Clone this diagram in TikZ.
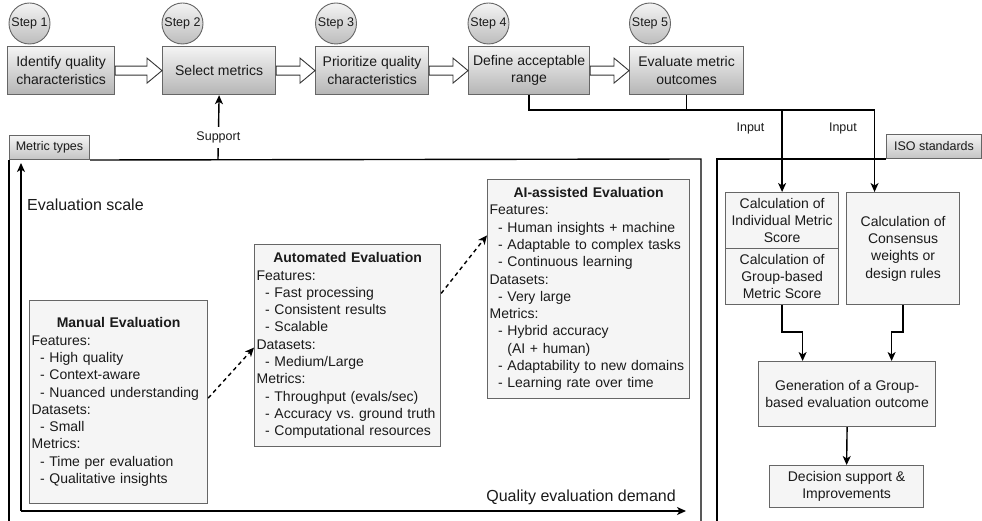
\documentclass[tikz,border=0pt]{standalone}
\usepackage{fontspec}
\setmainfont{Liberation Sans}
\usetikzlibrary{arrows.meta,calc}
\frenchspacing
\definecolor{boxline}{HTML}{666666}
\definecolor{boxfill}{HTML}{F5F5F5}
\definecolor{gradtop}{HTML}{F4F4F4}
\definecolor{gradbot}{HTML}{B5B5B5}
\definecolor{txt}{HTML}{1A1A1A}
\newcommand\bul{\hspace*{8.5pt}- }
\newcommand\bulcont{\hspace*{8.5pt}\phantom{-}\ }
\begin{document}
\begin{tikzpicture}[x=1pt,y=-1pt,
  every node/.style={font=\fontsize{14}{17.3}\selectfont, text=txt},
  stepbox/.style={draw=boxline, line width=1.2pt, top color=gradtop, bottom color=gradbot,
    anchor=north west, minimum height=48pt, inner sep=0pt, align=center},
  stepcirc/.style={circle, draw=boxline, line width=0.9pt, top color=gradtop, bottom color=gradbot!90,
    minimum size=41pt, inner sep=0pt, font=\fontsize{12.5}{14}\selectfont},
  tabbox/.style={draw=boxline, line width=1pt, top color=gradtop, bottom color=gradbot!80,
    anchor=north west, minimum height=24pt, inner sep=0pt, font=\fontsize{12.5}{14}\selectfont},
  evalbox/.style={draw=boxline, line width=1.2pt, fill=boxfill, anchor=north west,
    inner xsep=2pt, inner ysep=0pt, align=left},
  rbox/.style={draw=boxline, line width=1.2pt, fill=boxfill, anchor=north west,
    inner sep=0pt, align=center},
  hollow/.style={draw=black!80, line width=0.9pt, fill=white},
  panel/.style={draw=black, line width=1.4pt},
  arr/.style={draw=black, line width=1.4pt, -{Stealth[length=9pt,width=8pt,inset=2.5pt]}},
  dasharr/.style={arr, dash pattern=on 4pt off 3.5pt},
  smalllbl/.style={font=\fontsize{12.5}{14}\selectfont, inner sep=0pt},
  axislbl/.style={font=\fontsize{16}{18}\selectfont, inner sep=0pt}]

\useasboundingbox (0,0) rectangle (982,521);

% step badges (drawn first so the boxes cover their lower part)
\node[stepcirc] (s1) at (29.5,23.5) {Step 1};
\node[stepcirc] (s2) at (182.5,23.5) {Step 2};
\node[stepcirc] (s3) at (336,23.5) {Step 3};
\node[stepcirc] (s4) at (488.5,23.5) {Step 4};
\node[stepcirc] (s5) at (650,23.5) {Step 5};

% process steps
\node[stepbox, minimum width=107pt] (b1) at (7,46) {Identify quality\\characteristics};
\node[stepbox, minimum width=113pt] (b2) at (162,46) {Select metrics};
\node[stepbox, minimum width=113pt] (b3) at (315,46) {Prioritize quality\\characteristics};
\node[stepbox, minimum width=121pt] (b4) at (468,46) {Define acceptable\\range};
\node[stepbox, minimum width=114pt] (b5) at (629,46) {Evaluate metric\\outcomes};

% hollow block arrows between consecutive steps
\newcommand\blockarrow[2]{%
  \path[hollow] let \p1=(#1.east), \p2=(#2.west) in
    (\x1,\y1+4.5pt) -- (\x2-15pt,\y1+4.5pt) -- (\x2-15pt,\y1+12.5pt) -- (\x2,\y1)
    -- (\x2-15pt,\y1-12.5pt) -- (\x2-15pt,\y1-4.5pt) -- (\x1,\y1-4.5pt) -- cycle;}
\blockarrow{b1}{b2}
\blockarrow{b2}{b3}
\blockarrow{b3}{b4}
\blockarrow{b4}{b5}

% metric types panel
\node[tabbox, minimum width=80pt] (mtab) at (9,135) {Metric types};
\draw[panel] (mtab.south west) -- (9,521);
\draw[panel] (mtab.south east) -- (701,159) -- (701,521);
\coordinate (mtop) at (218,159);
\draw[arr] (mtop) -- node[pos=0.34, fill=white, smalllbl, inner ysep=5pt, inner xsep=2pt] {Support} (b2.south);

% ISO standards panel
\node[tabbox, minimum width=95pt] (itab) at (886,134) {ISO standards};
\draw[panel] (itab.south west) -- (717,159) -- (717,521);

% axes
\coordinate (origin) at (21,511);
\coordinate (ytop) at (21,163);
\coordinate (xend) at (686,511);
\draw[arr] (origin) -- (ytop);
\draw[arr] (origin) -- (xend);
\node[axislbl, anchor=west] (ylbl) at (27,205) {Evaluation scale};
\node[axislbl, anchor=east] (xlbl) at (676,497) {Quality evaluation demand};

% evaluation approaches
\node[evalbox, text width=174pt, minimum height=203pt] (man) at (29,300) {%
\makebox[\linewidth]{\textbf{Manual Evaluation}}\\
Features:\\
\bul High quality\\
\bul Context-aware\\
\bul Nuanced understanding\\
Datasets:\\
\bul Small\\
Metrics:\\
\bul Time per evaluation\\
\bul Qualitative insights};

\node[evalbox, text width=182pt, minimum height=202pt] (auto) at (254,244) {%
\makebox[\linewidth]{\textbf{Automated Evaluation}}\\
Features:\\
\bul Fast processing\\
\bul Consistent results\\
\bul Scalable\\
Datasets:\\
\bul Medium/Large\\
Metrics:\\
\bul Throughput (evals/sec)\\
\bul Accuracy vs. ground truth\\
\bul Computational resources};

\node[evalbox, text width=198pt, minimum height=219pt] (ai) at (487,179) {%
\makebox[\linewidth]{\textbf{AI-assisted Evaluation}}\\
Features:\\
\bul Human insights + machine\\
\bul Adaptable to complex tasks\\
\bul Continuous learning\\
Datasets:\\
\bul Very large\\
Metrics:\\
\bul Hybrid accuracy\\
\bulcont (AI + human)\\
\bul Adaptability to new domains\\
\bul Learning rate over time};

\draw[dasharr] ($(man.east)+(0,-4)$) -- ($(auto.west)+(0,2)$);
\draw[dasharr] ($(auto.north east)!0.243!(auto.south east)$) -- ($(ai.north west)!0.256!(ai.south west)$);

% score calculation chain
\node[rbox, minimum width=113pt, minimum height=56pt] (indiv) at (725,192) {Calculation of\\Individual Metric\\Score};
\node[rbox, minimum width=113pt, minimum height=56pt] (group) at (725,248) {Calculation of\\Group-based\\Metric Score};
\node[rbox, minimum width=113pt, minimum height=112pt] (cons) at (846,192) {Calculation of\\Consensus\\weights or\\design rules};
\node[rbox, minimum width=177pt, minimum height=65pt] (gen) at (758,361) {Generation of a Group-\\based evaluation outcome};
\node[rbox, minimum width=154pt, minimum height=42pt] (dec) at (769,465) {Decision support \&\\Improvements};

% inputs from the process steps
\coordinate (bus) at (0,110);
\coordinate (consin) at ($(cons.north west)!0.25!(cons.north east)$);
\draw[arr] (b4.south) -- (b4.south |- bus) -- (consin |- bus)
  -- node[pos=0.22, left=17pt, smalllbl] {Input} (consin);
\draw[arr] (b5.south) -- (b5.south |- bus) -- (indiv.north |- bus)
  -- node[pos=0.22, left=17pt, smalllbl] {Input} (indiv.north);

% merge into the group outcome
\coordinate (mid) at (0,332);
\coordinate (genL) at ($(gen.north)+(-44.5,0)$);
\coordinate (genR) at ($(gen.north)+(44.5,0)$);
\draw[arr] (group.south) -- (group.south |- mid) -| (genL);
\draw[arr] (cons.south) -- (cons.south |- mid) -| (genR);
\draw[arr] (gen.south) -- (dec.north);

\end{tikzpicture}
\end{document}
